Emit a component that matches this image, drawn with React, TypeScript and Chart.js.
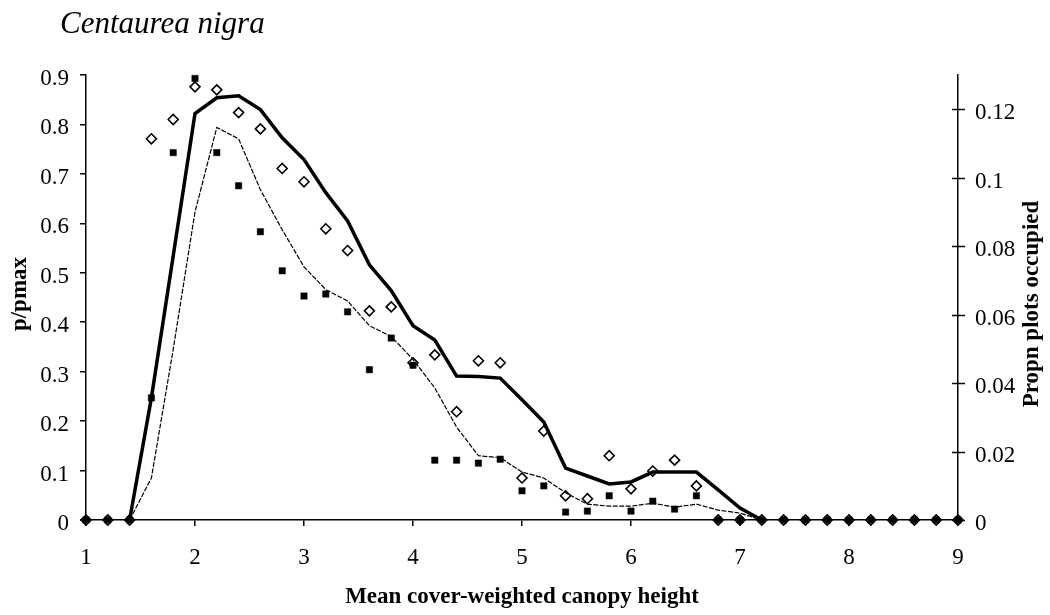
import React, { useEffect, useRef } from "react";
import { Chart, registerables } from "chart.js";

Chart.register(...registerables);

// Mean cover-weighted canopy height classes
const heights = [
  1.0, 1.2, 1.4, 1.6, 1.8, 2.0, 2.2, 2.4, 2.6, 2.8,
  3.0, 3.2, 3.4, 3.6, 3.8, 4.0, 4.2, 4.4, 4.6, 4.8,
  5.0, 5.2, 5.4, 5.6, 5.8, 6.0, 6.2, 6.4, 6.6, 6.8,
  7.0, 7.2, 7.4, 7.6, 7.8, 8.0, 8.2, 8.4, 8.6, 8.8,
  9.0,
];

// Observed values (filled squares)
const observedSquares = [
  0, 0, 0, 0.247, 0.743, 0.893, 0.743, 0.676, 0.583, 0.504,
  0.453, 0.457, 0.421, 0.304, 0.368, 0.313, 0.121, 0.121, 0.115, 0.123,
  0.059, 0.069, 0.016, 0.018, 0.049, 0.018, 0.038, 0.022, 0.049, 0,
  0, 0, 0, 0, 0, 0, 0, 0, 0, 0,
  0,
];

// Observed values (open diamonds)
const observedDiamonds = [
  0, 0, 0, 0.771, 0.81, 0.876, 0.87, 0.824, 0.791, 0.711,
  0.684, 0.589, 0.545, 0.423, 0.431, 0.318, 0.334, 0.219, 0.322, 0.318,
  0.085, 0.18, 0.049, 0.043, 0.13, 0.063, 0.099, 0.121, 0.069, 0,
  0, 0, 0, 0, 0, 0, 0, 0, 0, 0,
  0,
];

// Smoothed curve (thick solid line)
const smoothThick = [
  null, null, 0, 0.247, 0.534, 0.822, 0.854, 0.858, 0.83, 0.773,
  0.729, 0.662, 0.605, 0.516, 0.464, 0.393, 0.364, 0.291, 0.29, 0.287,
  0.243, 0.198, 0.105, 0.089, 0.073, 0.077, 0.097, 0.097, 0.097, 0.061,
  0.024, 0, null, null, null, null, null, null, null, null,
  null,
];

// Smoothed curve (thin dashed line)
const smoothThin = [
  null, null, 0, 0.085, 0.345, 0.623, 0.794, 0.771, 0.668, 0.587,
  0.512, 0.466, 0.443, 0.393, 0.371, 0.325, 0.267, 0.188, 0.13, 0.126,
  0.097, 0.085, 0.055, 0.032, 0.028, 0.028, 0.034, 0.026, 0.032, 0.02,
  0.014, 0, null, null, null, null, null, null, null, null,
  null,
];

const leftTicks = [0, 0.1, 0.2, 0.3, 0.4, 0.5, 0.6, 0.7, 0.8, 0.9];
const rightTicks = [0, 0.02, 0.04, 0.06, 0.08, 0.1, 0.12];
const xTicks = [1, 2, 3, 4, 5, 6, 7, 8, 9];

const titleText = "Centaurea nigra";
const xTitle = "Mean cover-weighted canopy height";
const yLeftTitle = "p/pmax";
const yRightTitle = "Propn plots occupied";

const FONT = '"Liberation Serif", "Times New Roman", serif';

const toPoints = (values: (number | null)[]) =>
  heights.map((h, i) => ({ x: h, y: values[i] }));

const fmt = (v: number) => String(parseFloat(Number(v).toFixed(2)));

const textPlugin = {
  id: "chartText",
  afterDraw(chart: any) {
    const ctx = chart.ctx as CanvasRenderingContext2D;
    const area = chart.chartArea;
    const yR = chart.scales.y2;
    ctx.save();
    // right axis tick marks cross the axis line
    ctx.strokeStyle = "#000";
    ctx.lineWidth = 1.5;
    rightTicks.forEach((v) => {
      const y = Math.round(yR.getPixelForValue(v)) + 0.5;
      ctx.beginPath();
      ctx.moveTo(area.right - 6, y);
      ctx.lineTo(area.right + 7, y);
      ctx.stroke();
    });

    ctx.fillStyle = "#000";
    ctx.font = `italic 31px ${FONT}`;
    ctx.textAlign = "left";
    ctx.textBaseline = "alphabetic";
    ctx.fillText(titleText, 60, 33);

    ctx.font = `bold 23px ${FONT}`;
    ctx.textAlign = "center";
    ctx.textBaseline = "middle";
    ctx.fillText(xTitle, (area.left + area.right) / 2, 597);

    ctx.save();
    ctx.translate(20, 294);
    ctx.rotate(-Math.PI / 2);
    ctx.fillText(yLeftTitle, 0, 0);
    ctx.restore();

    ctx.save();
    ctx.translate(1032, 304);
    ctx.rotate(-Math.PI / 2);
    ctx.fillText(yRightTitle, 0, 0);
    ctx.restore();

    ctx.restore();
  },
};

export default function App() {
  const canvasRef = useRef<HTMLCanvasElement | null>(null);

  useEffect(() => {
    document.body.style.margin = "0";
    const canvas = canvasRef.current;
    if (!canvas) return;

    const chart = new Chart(canvas, {
      type: "line",
      data: {
        datasets: [
          {
            label: "thick",
            data: toPoints(smoothThick),
            borderColor: "#000",
            borderWidth: 3.5,
            pointRadius: 0,
            pointHoverRadius: 0,
            fill: false,
            spanGaps: false,
            clip: false as any,
            yAxisID: "y",
          },
          {
            label: "thin",
            data: toPoints(smoothThin),
            borderColor: "#000",
            borderWidth: 1.2,
            borderDash: [5, 1.5],
            pointRadius: 0,
            pointHoverRadius: 0,
            fill: false,
            spanGaps: false,
            clip: false as any,
            yAxisID: "y",
          },
          {
            label: "squares",
            data: toPoints(observedSquares),
            showLine: false,
            pointStyle: "rect",
            pointRadius: 4.5,
            pointBackgroundColor: "#000",
            pointBorderColor: "#000",
            pointBorderWidth: 0.5,
            clip: false as any,
            yAxisID: "y",
          },
          {
            label: "diamonds",
            data: toPoints(observedDiamonds),
            showLine: false,
            pointStyle: "rectRot",
            pointRadius: 5,
            pointBackgroundColor: "rgba(0,0,0,0)",
            pointBorderColor: "#000",
            pointBorderWidth: 1.6,
            clip: false as any,
            yAxisID: "y",
          },
        ],
      },
      options: {
        animation: false,
        responsive: false,
        maintainAspectRatio: false,
        events: [],
        layout: { padding: { top: 75, left: 0, right: 0, bottom: 0 } },
        plugins: {
          legend: { display: false },
          tooltip: { enabled: false },
          title: { display: false },
        },
        scales: {
          x: {
            type: "linear",
            position: "bottom",
            min: 1,
            max: 9,
            afterBuildTicks: (scale: any) => {
              scale.ticks = xTicks.map((v) => ({ value: v }));
            },
            afterFit: (scale: any) => {
              scale.height = 95;
            },
            border: { display: true, color: "#000", width: 1.5 },
            grid: {
              display: true,
              drawOnChartArea: false,
              drawTicks: true,
              tickLength: 6,
              color: "#000",
              lineWidth: 1.5,
            },
            ticks: {
              color: "#000",
              font: { family: FONT, size: 23 },
              padding: 18,
              maxRotation: 0,
              autoSkip: false,
              callback: (v: any) => fmt(v),
            },
          },
          y: {
            type: "linear",
            position: "left",
            min: 0,
            max: 0.9,
            afterBuildTicks: (scale: any) => {
              scale.ticks = leftTicks.map((v) => ({ value: v }));
            },
            afterFit: (scale: any) => {
              scale.width = 86;
            },
            border: { display: true, color: "#000", width: 1.5 },
            grid: {
              display: true,
              drawOnChartArea: false,
              drawTicks: true,
              tickLength: 6,
              color: "#000",
              lineWidth: 1.5,
            },
            ticks: {
              color: "#000",
              font: { family: FONT, size: 23 },
              padding: 11,
              labelOffset: 4,
              autoSkip: false,
              callback: (v: any) => fmt(v),
            },
          },
          y2: {
            type: "linear",
            position: "right",
            min: 0,
            max: 0.13,
            afterBuildTicks: (scale: any) => {
              scale.ticks = rightTicks.map((v) => ({ value: v }));
            },
            afterFit: (scale: any) => {
              scale.width = 92;
            },
            border: { display: true, color: "#000", width: 1.5 },
            grid: {
              display: false,
              drawOnChartArea: false,
              drawTicks: false,
            },
            ticks: {
              color: "#000",
              font: { family: FONT, size: 23 },
              padding: 17,
              labelOffset: 4,
              autoSkip: false,
              callback: (v: any) => fmt(v),
            },
          },
        },
      },
      plugins: [textPlugin],
    });

    return () => {
      chart.destroy();
    };
  }, []);

  return (
    <div style={{ position: "absolute", left: 0, top: 0, width: 1050, height: 615, background: "#fff" }}>
      <canvas ref={canvasRef} width={1050} height={615} />
    </div>
  );
}
